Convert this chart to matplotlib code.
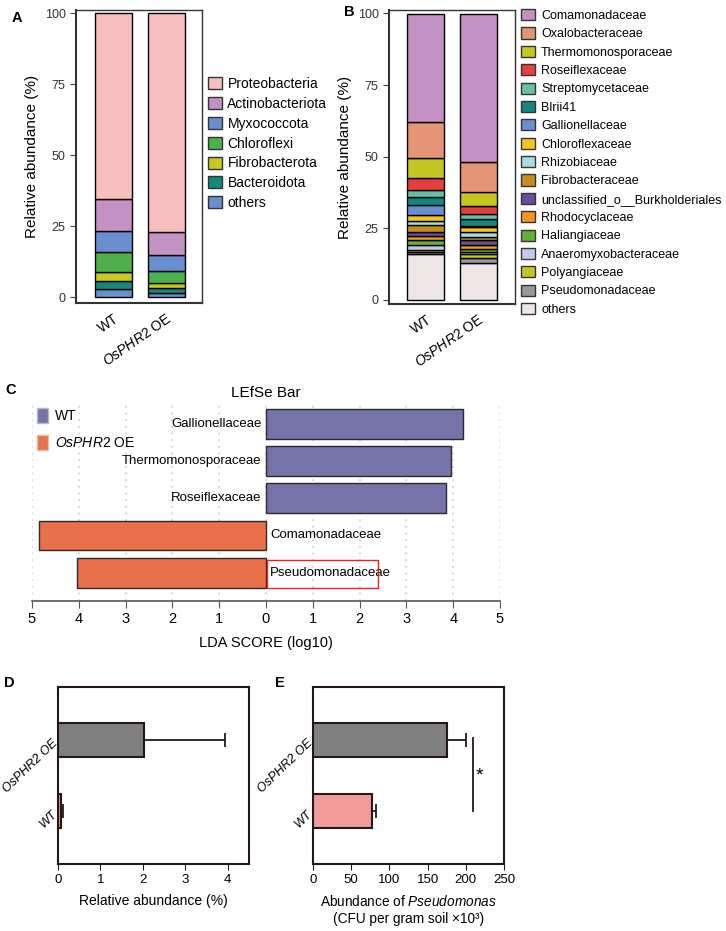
import matplotlib
matplotlib.use("Agg")
import matplotlib.pyplot as plt
import matplotlib.patches as mpatches
import numpy as np

# Figure size in pixels (dpi 100)
W, H = 726, 931

plt.rcParams['font.family'] = ['Liberation Sans', 'DejaVu Sans']
plt.rcParams['mathtext.fontset'] = 'custom'
plt.rcParams['mathtext.it'] = 'Liberation Sans:italic'
plt.rcParams['mathtext.rm'] = 'Liberation Sans'
INK = '#231815'

# ---------------- data ----------------
groups = ['WT', r'$\it{OsPHR2}$ OE']

# Panel A: phylum level (legend order, top to bottom)
phyla = ['Proteobacteria', 'Actinobacteriota', 'Myxococcota', 'Chloroflexi',
         'Fibrobacterota', 'Bacteroidota', 'others']
phyla_wt = [65.3, 11.3, 7.6, 6.9, 3.3, 2.7, 2.9]
phyla_oe = [77.0, 8.1, 5.6, 4.2, 1.7, 1.9, 1.5]
phyla_colors = ['#F6BEBE', '#C491C4', '#6A8FCF', '#4DB04A', '#C8C822', '#16877F', '#6A8FCF']

# Panel B: family level
families = ['Comamonadaceae', 'Oxalobacteraceae', 'Thermomonosporaceae', 'Roseiflexaceae',
            'Streptomycetaceae', 'Blrii41', 'Gallionellaceae', 'Chloroflexaceae',
            'Rhizobiaceae', 'Fibrobacteraceae', 'unclassified_o__Burkholderiales',
            'Rhodocyclaceae', 'Haliangiaceae', 'Anaeromyxobacteraceae', 'Polyangiaceae',
            'Pseudomonadaceae', 'others']
fam_wt = [37.6, 12.5, 7.1, 4.1, 2.7, 2.5, 3.5, 2.2, 1.5, 2.3, 1.4, 1.4, 1.7, 1.7, 0.9, 0.6, 16.1]
fam_oe = [51.8, 10.4, 5.0, 2.8, 1.7, 2.4, 0.5, 1.4, 1.9, 1.2, 1.6, 1.5, 1.0, 0.7, 1.5, 1.7, 12.8]
fam_colors = ['#C491C4', '#E59476', '#C6C622', '#E6403C', '#68BFA3', '#148580', '#6A8FCF',
              '#F5C51E', '#A8DCE2', '#C48F1E', '#6A4C9C', '#F39322', '#62B234', '#C8C8E4',
              '#C6C622', '#999999', '#EEE6E6']

# Panel C: LEfSe
lefse_taxa = ['Gallionellaceae', 'Thermomonosporaceae', 'Roseiflexaceae',
              'Comamonadaceae', 'Pseudomonadaceae']
lefse_score = [4.21, 3.95, 3.84, 4.85, 4.04]
lefse_group = ['WT', 'WT', 'WT', 'OE', 'OE']
lefse_colors = {'WT': '#7673A8', 'OE': '#E8704A'}

# Panel D: relative abundance of Pseudomonadaceae
d_groups = ['WT', 'OsPHR2 OE']
d_mean = [0.06, 2.03]
d_err = [0.06, 1.91]

# Panel E: CFU counts
e_mean = [77, 175]
e_err = [6, 25]
bar_colors_de = ['#F09A9A', '#808080']


def ax_px(left, top, right, bottom):
    return fig.add_axes([left / W, 1 - bottom / H, (right - left) / W, (bottom - top) / H])


fig = plt.figure(figsize=(W / 100, H / 100), dpi=100)

# ---------------- A / B stacked bars ----------------
def stacked(ax, wt, oe, colors, ylim, xlim):
    x = np.arange(2)
    bottom = np.zeros(2)
    for i in range(len(wt) - 1, -1, -1):
        vals = np.array([wt[i], oe[i]])
        ax.bar(x, vals, bottom=bottom, width=0.71, color=colors[i],
               edgecolor='black', linewidth=1.0)
        bottom += vals
    ax.set_xlim(*xlim)
    ax.set_ylim(*ylim)
    ax.set_yticks([0, 25, 50, 75, 100])
    ax.set_xticks(x)
    ax.set_xticklabels(groups, rotation=35, ha='right', rotation_mode='anchor', fontsize=10)
    ax.tick_params(axis='y', labelsize=9, length=4, color='#444444', labelcolor='#333333')
    ax.tick_params(axis='x', length=0, pad=6)
    for s in ax.spines.values():
        s.set_color('#333333')
        s.set_linewidth(1.0)
    ax.spines['left'].set_linewidth(1.5)
    ax.spines['bottom'].set_linewidth(1.5)
    ax.set_ylabel('Relative abundance (%)', fontsize=11, labelpad=4)


axA = ax_px(76, 10, 202, 303)
stacked(axA, phyla_wt, phyla_oe, phyla_colors, (-2, 101.2), (-0.71, 1.67))

handles_a = [mpatches.Patch(facecolor=c, edgecolor='#333333', label=l)
             for l, c in zip(phyla, phyla_colors)]
fig.legend(handles=handles_a, loc='upper left', bbox_to_anchor=(208 / W, 1 - 77 / H),
           frameon=False, fontsize=10, handlelength=1.0, handleheight=0.95,
           handletextpad=0.4, labelspacing=0.42, borderpad=0, borderaxespad=0)

axB = ax_px(389, 10, 515, 304)
stacked(axB, fam_wt, fam_oe, fam_colors, (-1.4, 101.2), (-0.71, 1.71))

handles_b = [mpatches.Patch(facecolor=c, edgecolor='#333333', label=l)
             for l, c in zip(families, fam_colors)]
fig.legend(handles=handles_b, loc='upper left', bbox_to_anchor=(521 / W, 1 - 9 / H),
           frameon=False, fontsize=9.0, handlelength=1.15, handleheight=1.0,
           handletextpad=0.45, labelspacing=0.44, borderpad=0, borderaxespad=0)

# ---------------- C LEfSe ----------------
axC = ax_px(32, 405, 500, 601)
ypos = np.arange(len(lefse_taxa))[::-1]
signed = [s if g == 'WT' else -s for s, g in zip(lefse_score, lefse_group)]
axC.barh(ypos, signed, height=0.8, color=[lefse_colors[g] for g in lefse_group],
         edgecolor='#2a2a2a', linewidth=1.0, zorder=3)
axC.set_xlim(-5, 5)
axC.set_ylim(-0.76, 4.5)
axC.set_xticks(np.arange(-5, 6))
axC.set_xticklabels([str(abs(v)) for v in range(-5, 6)], fontsize=10.5)
axC.set_yticks([])
axC.grid(axis='x', linestyle=(0, (1, 3)), color='#cccccc', linewidth=1.2, zorder=0)
for s in ['left', 'right', 'top']:
    axC.spines[s].set_visible(False)
axC.spines['bottom'].set_color('#555555')
axC.spines['bottom'].set_linewidth(1.2)
axC.tick_params(axis='x', length=5, color='#555555', pad=3)
for y, v, name in zip(ypos, signed, lefse_taxa):
    if v > 0:
        axC.text(-0.1, y, name, ha='right', va='center', fontsize=9.5)
    else:
        axC.text(0.09, y, name, ha='left', va='center', fontsize=9.5)
        if name == 'Pseudomonadaceae':
            # red highlight box around the label
            axC.add_patch(mpatches.Rectangle((0.03, y - 0.42), 2.36, 0.77, fill=False,
                                             edgecolor='#E52420', linewidth=1.0, zorder=4))
axC.set_title('LEfSe Bar', fontsize=11, pad=6)
axC.set_xlabel('LDA SCORE (log10)', fontsize=10.5, labelpad=7)

handles_c = [mpatches.Patch(facecolor=lefse_colors['WT'], edgecolor='#b8b6d8', label='WT'),
             mpatches.Patch(facecolor=lefse_colors['OE'], edgecolor='#f4b8a0',
                            label=r'$\it{OsPHR2}$ OE')]
axC.legend(handles=handles_c, loc='upper left', bbox_to_anchor=(0.011, 0.985),
           frameon=False, fontsize=10, handlelength=0.8,
           handleheight=1.3, handletextpad=0.45, labelspacing=0.85, borderpad=0,
           borderaxespad=0)

# ---------------- D / E horizontal bars ----------------
def hbars(ax, mean, err, xlim, xticks):
    y = np.arange(2)
    ax.barh(y, mean, height=0.48, color=bar_colors_de, edgecolor=INK, linewidth=1.5, zorder=2)
    ax.errorbar(mean, y, xerr=[[0, 0], err], fmt='none', ecolor=INK, elinewidth=1.3,
                capsize=5, capthick=1.3, zorder=1)
    ax.set_xlim(*xlim)
    ax.set_ylim(-0.75, 1.75)
    ax.set_xticks(xticks)
    ax.set_yticks(y)
    ax.set_yticklabels(d_groups, rotation=44, ha='right', rotation_mode='anchor',
                       fontsize=9, style='italic')
    ax.tick_params(axis='x', labelsize=9.5, length=4, color=INK, pad=3)
    ax.tick_params(axis='y', length=0, pad=2)
    for s in ax.spines.values():
        s.set_color(INK)
        s.set_linewidth(1.5)


axD = ax_px(58, 687, 249, 864)
hbars(axD, d_mean, d_err, (0, 4.5), [0, 1, 2, 3, 4])
axD.set_xlabel('Relative abundance (%)', fontsize=10, labelpad=6)

axE = ax_px(313, 687, 504, 864)
hbars(axE, e_mean, e_err, (0, 250), [0, 50, 100, 150, 200, 250])
axE.set_xlabel('Abundance of $\\it{Pseudomonas}$\n(CFU per gram soil \u00d710\u00b3)',
               fontsize=9.8, labelpad=6, linespacing=1.3)
axE.plot([209, 209], [0.0, 1.03], color=INK, linewidth=1.3)
axE.text(218, 0.5, '*', fontsize=14, ha='center', va='center')

# panel letters
for letter, (px, py) in {'A': (12, 18), 'B': (344, 12), 'C': (5, 390),
                         'D': (4, 683), 'E': (275, 683)}.items():
    fig.text(px / W, 1 - py / H, letter, fontsize=10.5, fontweight='bold', va='center')

fig.savefig('out.png', dpi=100)
